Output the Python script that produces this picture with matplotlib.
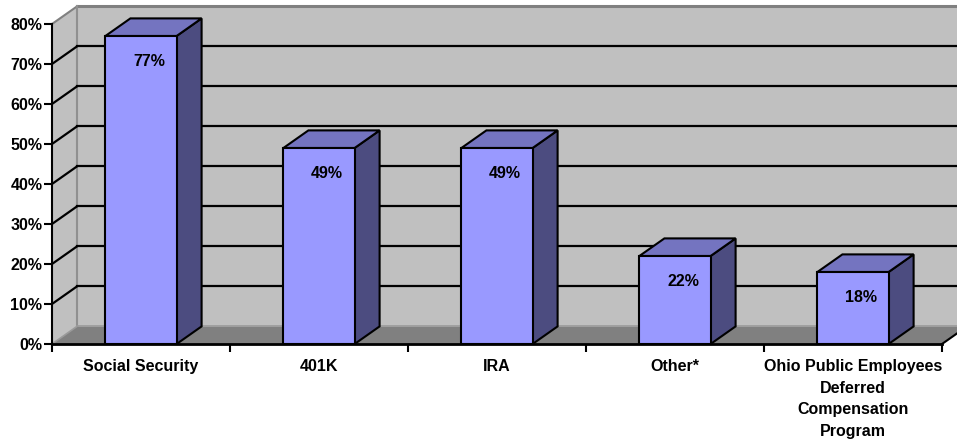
import matplotlib
matplotlib.use("Agg")
import matplotlib.pyplot as plt
from matplotlib.patches import Polygon, Rectangle
from matplotlib.ticker import FixedLocator

plt.rcParams['font.family'] = ['Liberation Sans', 'DejaVu Sans']

# Data
categories = ["Social Security", "401K", "IRA", "Other*",
              "Ohio Public Employees\nDeferred\nCompensation\nProgram"]
values = [77, 49, 49, 22, 18]
yticks = list(range(0, 81, 10))

# Colours
front_col = "#9999FF"
side_col = "#4C4C80"
top_col = "#7474C0"
wall_col = "#C0C0C0"
floor_col = "#808080"

# 3D depth offsets in data units
DX = 25 / 178
DY = 4.4
BW = 0.4
XR = 6.0  # back wall runs off the right edge

fig = plt.figure(figsize=(9.57, 4.42), dpi=100)
ax = fig.add_axes([52 / 957, (442 - 344) / 442, 890 / 957, 320 / 442])
ax.set_xlim(-0.5, 4.5)
ax.set_ylim(0, 80)
ax.patch.set_visible(False)

def poly(pts, fc, ec="none", lw=0, z=1):
    p = Polygon(pts, closed=True, facecolor=fc, edgecolor=ec, linewidth=lw,
                clip_on=False, zorder=z, joinstyle="miter")
    ax.add_patch(p)

# back wall, side wall, floor
poly([(-0.5 + DX, DY), (XR, DY), (XR, 80 + DY), (-0.5 + DX, 80 + DY)], wall_col, z=0.1)
poly([(-0.5, 0), (-0.5 + DX, DY), (-0.5 + DX, 80 + DY), (-0.5, 80)], wall_col, z=0.1)
poly([(-0.5, 0), (4.5, 0), (4.5 + DX, DY), (-0.5 + DX, DY)], floor_col, z=0.2)

# wall edges
ax.plot([-0.5 + DX, XR], [80 + DY, 80 + DY], color="#808080", lw=2.2, clip_on=False, zorder=0.3)
ax.plot([-0.5, -0.5 + DX], [80, 80 + DY], color="#808080", lw=1.5, clip_on=False, zorder=0.3)
ax.plot([-0.5 + DX, -0.5 + DX], [DY, 80 + DY], color="#909090", lw=1.5, clip_on=False, zorder=0.3)
ax.plot([-0.5 + DX, XR], [DY, DY], color="#9a9a9a", lw=1.2, clip_on=False, zorder=0.3)
ax.plot([-0.5, -0.5 + DX], [0, DY], color="#9a9a9a", lw=1.2, clip_on=False, zorder=0.3)
ax.plot([4.5, 4.5 + DX], [0, DY], color="black", lw=1.5, clip_on=False, zorder=0.3)

# gridlines on back and side walls
for v in yticks[1:-1]:
    ax.plot([-0.5 + DX, XR], [v + DY, v + DY], color="black", lw=1.6, clip_on=False, zorder=0.4)
    ax.plot([-0.5, -0.5 + DX], [v, v + DY], color="black", lw=1.6, clip_on=False, zorder=0.4)

# bars
for i, v in enumerate(values):
    x0, x1 = i - BW / 2, i + BW / 2
    poly([(x1, 0), (x1 + DX, DY), (x1 + DX, v + DY), (x1, v)], side_col, "black", 1.5, z=2)
    poly([(x0, v), (x1, v), (x1 + DX, v + DY), (x0 + DX, v + DY)], top_col, "black", 1.5, z=2)
    ax.add_patch(Rectangle((x0, 0), BW, v, facecolor=front_col, edgecolor="black",
                           linewidth=1.5, zorder=2.1, clip_on=False, joinstyle="miter"))
    ax.text(i + 0.045, v - 6.3, f"{v}%", ha="center", va="center",
            fontsize=11.5, fontweight="bold", zorder=3)

# axes styling
for s in ["top", "right"]:
    ax.spines[s].set_visible(False)
ax.spines["left"].set_linewidth(1.5)
ax.spines["bottom"].set_linewidth(2)
ax.spines["left"].set_zorder(2.5)
ax.spines["bottom"].set_zorder(2.5)

ax.set_yticks(yticks)
ax.set_yticklabels([f"{v}%" for v in yticks], fontsize=11.5, fontweight="bold")
ax.tick_params(axis="y", direction="out", length=6, width=1.5, pad=1)

ax.set_xticks(range(len(categories)))
ax.set_xticklabels(categories, fontsize=11.5, fontweight="bold", linespacing=1.55)
ax.tick_params(axis="x", which="major", length=0, pad=11)
ax.xaxis.set_minor_locator(FixedLocator([i - 0.5 for i in range(len(categories) + 1)]))
ax.tick_params(axis="x", which="minor", direction="out", length=5.5, width=1.5)

fig.savefig("out.png", dpi=100)
